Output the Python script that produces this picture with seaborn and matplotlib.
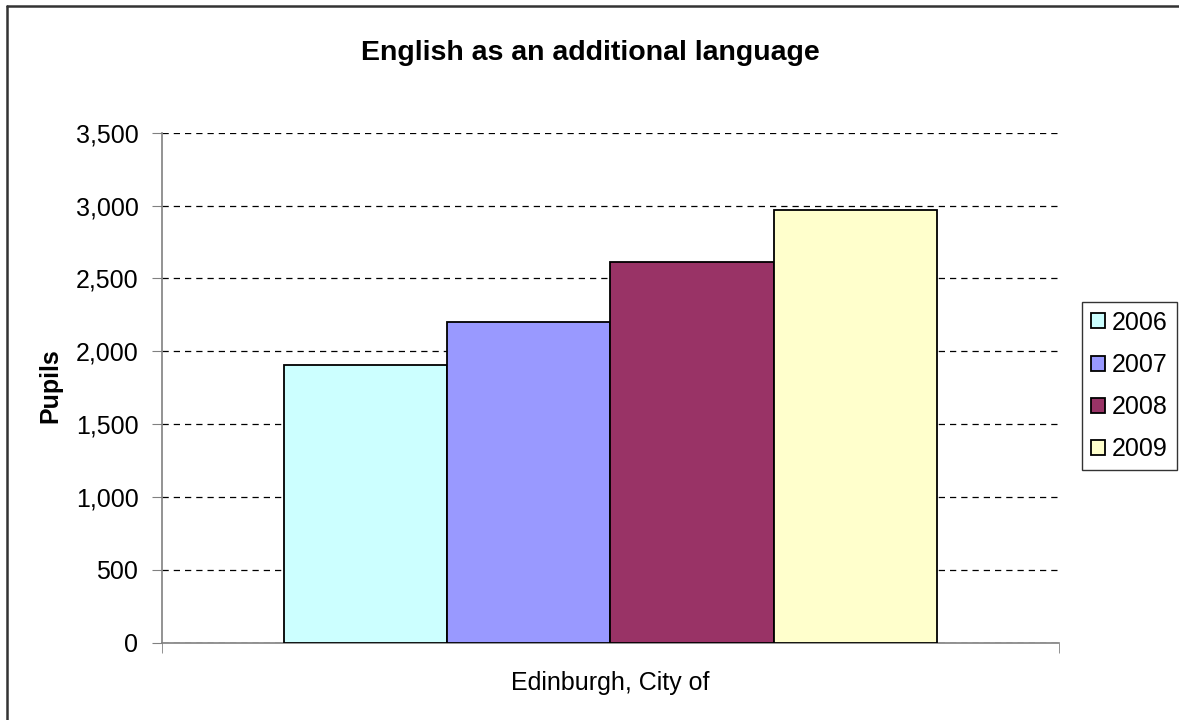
import pandas as pd
import matplotlib.pyplot as plt
import matplotlib.ticker as mticker
from matplotlib.lines import Line2D
import seaborn as sns

# values
areas = ["Edinburgh, City of"] * 4
years = ["2006", "2007", "2008", "2009"]
pupils = [1903, 2203, 2610, 2970]
colors = ["#CCFFFF", "#9999FF", "#993366", "#FFFFCC"]

df = pd.DataFrame({"area": areas, "year": years, "pupils": pupils})

sns.set_style("white")
plt.rcParams["font.family"] = ["Liberation Sans", "DejaVu Sans"]
plt.rcParams["text.color"] = "black"
plt.rcParams["axes.labelcolor"] = "black"

fig = plt.figure(figsize=(11.79, 7.2), dpi=100)
ax = fig.add_axes([0.1374, 0.1074, 0.7608, 0.7083])

sns.barplot(data=df, x="area", y="pupils", hue="year", palette=colors,
            width=0.727, saturation=1, edgecolor="black", linewidth=1.3,
            ax=ax, zorder=3)

ax.set_ylim(0, 3500)
ax.set_xlim(-0.5, 0.5)
ax.yaxis.set_major_locator(mticker.MultipleLocator(500))
ax.yaxis.set_major_formatter(mticker.FuncFormatter(lambda v, p: f"{int(v):,}"))
ax.yaxis.grid(True, color="black", linestyle=(0, (5, 4)), linewidth=0.9, zorder=0)
ax.set_axisbelow(True)

for s in ["top", "right"]:
    ax.spines[s].set_visible(False)
for s in ["left", "bottom"]:
    ax.spines[s].set_color("#808080")
    ax.spines[s].set_linewidth(1.2)

ax.tick_params(axis="y", left=True, direction="out", length=7, color="#808080",
               labelcolor="black", labelsize=18, pad=10)
ax.set_xticks([-0.5, 0.5], minor=True)
ax.tick_params(axis="x", which="minor", bottom=True, length=7, color="#808080")
ax.tick_params(axis="x", which="major", bottom=False, labelcolor="black",
               labelsize=18, pad=17)

ax.set_xlabel("")
ax.set_ylabel("")
fig.text(50 / 1179, 0.464, "Pupils", rotation=90, ha="center", va="center",
         fontsize=18, fontweight="bold")
fig.text(0.501, 0.926, "English as an additional language", ha="center", va="center",
         fontsize=20.5, fontweight="bold")

handles, labels = ax.get_legend_handles_labels()
ax.get_legend().remove()
leg = fig.legend(handles, labels, loc="upper left", bbox_to_anchor=(0.9177, 0.5806),
                 fontsize=18, frameon=True, fancybox=False, edgecolor="black",
                 handlelength=0.56, handleheight=0.56, handletextpad=0.3,
                 labelspacing=0.73, borderpad=0.35, borderaxespad=0)
leg.get_frame().set_linewidth(1.0)

# outer chart border, only the top and left edges are inside the picture
fig.add_artist(Line2D([6.5 / 1179, 6.5 / 1179], [0, 1 - 5.5 / 720], transform=fig.transFigure,
                      color="#333333", linewidth=1.8))
fig.add_artist(Line2D([6.5 / 1179, 1], [1 - 5.5 / 720, 1 - 5.5 / 720], transform=fig.transFigure,
                      color="#333333", linewidth=1.8))

plt.savefig("out.png", dpi=100)
